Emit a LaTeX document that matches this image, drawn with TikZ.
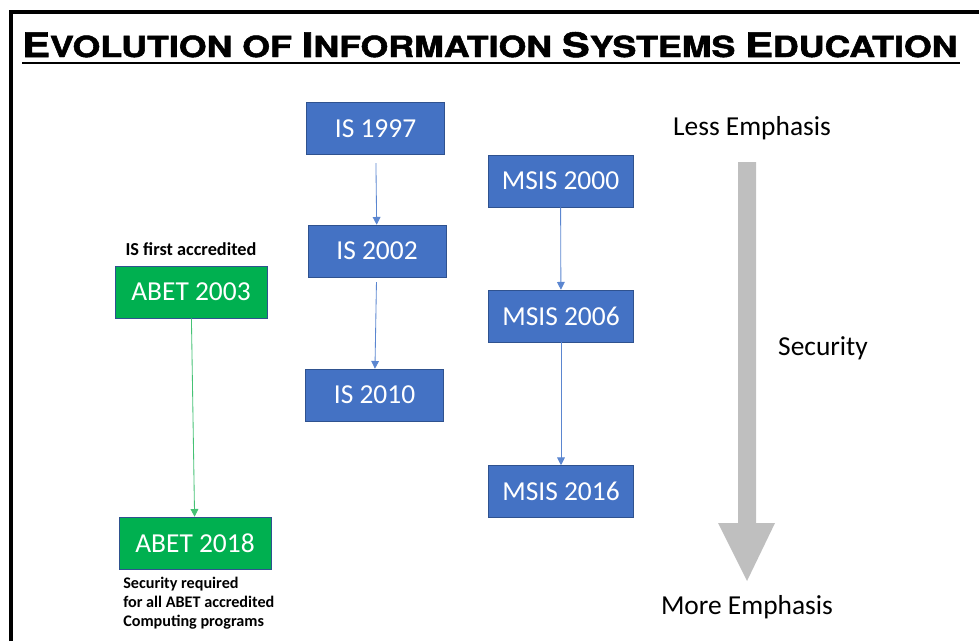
\documentclass[tikz,border=0pt]{standalone}
\usepackage{fontspec}
\usepackage{graphicx}
\setmainfont{Carlito}
\newfontfamily\headfont{TeX Gyre Heros}[BoldFeatures={FakeBold=1.6}]
\usetikzlibrary{arrows.meta,positioning}

\definecolor{isblue}{HTML}{4472C4}
\definecolor{isedge}{HTML}{2F528F}
\definecolor{abetgreen}{HTML}{00B050}
\definecolor{linkblue}{HTML}{5B86D0}
\definecolor{linkgreen}{HTML}{45C274}
\definecolor{bargray}{HTML}{BFBFBF}

\newcommand{\boxfont}{\fontsize{19.5}{23}\selectfont}
\newcommand{\notefont}{\fontsize{13}{13.5}\selectfont\bfseries}
% big first letter, smaller capitals after it
\newcommand{\capword}[2]{{\fontsize{25}{30}\selectfont #1}{\fontsize{21.5}{24}\selectfont #2}}

\begin{document}
\begin{tikzpicture}[x=0.025cm, y=-0.025cm, line cap=round,
  isbox/.style={draw=isedge, fill=isblue, text=white, minimum width=3.45cm,
    minimum height=1.3cm, font=\boxfont},
  msisbox/.style={isbox, minimum width=3.625cm},
  abetbox/.style={isbox, fill=abetgreen, minimum width=3.8cm},
  link/.style={draw=linkblue, line width=0.6pt, line cap=butt,
    -{Triangle[width=5.5pt,length=5.5pt]}},
  note/.style={font=\notefont, align=left, inner sep=0pt}]
  \useasboundingbox (0,0) rectangle (979,641);

  % frame, open on the right and at the bottom
  \draw[line width=2.85pt, line cap=butt, line join=miter] (11,641) -- (11,12) -- (979,12);

  % heading
  \node[anchor=base west, inner sep=0pt] (title) at (22,57)
    {\resizebox{23.375cm}{0.625cm}{\headfont\bfseries\fontsize{21.5}{24}\selectfont
      \capword{E}{VOLUTION} \capword{}{OF} \capword{I}{NFORMATION}
      \capword{S}{YSTEMS} \capword{E}{DUCATION}}};
  \draw[line width=2.1pt, line cap=butt] (title.base west) ++(0,6) -- ++(938,0);

  % undergraduate model curricula
  \node[isbox] (is97) at (375.5,128.5) {IS 1997};
  \node[isbox] (is02) at (377,251) {IS 2002};
  \node[isbox] (is10) at (374.5,395) {IS 2010};

  % graduate model curricula
  \node[msisbox] (msis00) at (560.5,181) {MSIS 2000};
  \node[msisbox] (msis06) at (561,316) {MSIS 2006};
  \node[msisbox] (msis16) at (561,491.5) {MSIS 2016};

  % accreditation
  \node[abetbox] (abet03) at (191,292) {ABET 2003};
  \node[abetbox] (abet18) at (195,543) {ABET 2018};
  \node[note, above=7pt of abet03] (firstacc) {IS first accredited};
  \node[note, font=\fontsize{11.5}{13.5}\selectfont\bfseries, anchor=north west] (secreq) at (123,577)
    {Security required\\for all ABET accredited\\Computing programs};

  \draw[link, shorten <=6pt] (is97) -- (is02);
  \draw[link, shorten <=3.5pt] (is02) -- (is10);
  \draw[link] (msis00) -- (msis06);
  \draw[link] (msis06) -- (msis16);
  \draw[link, draw=linkgreen] (abet03) -- (abet18);

  % emphasis scale
  \fill[bargray] (738,162) -- (756,162) -- (756,523) -- (775,523) -- (747,581)
    -- (718,523) -- (738,523) -- cycle;
  \node[font=\boxfont] (less) at (752,128) {Less Emphasis};
  \node[font=\boxfont] (secur) at (823,348) {Security};
  \node[font=\boxfont] (more) at (747,607) {More Emphasis};
\end{tikzpicture}
\end{document}
